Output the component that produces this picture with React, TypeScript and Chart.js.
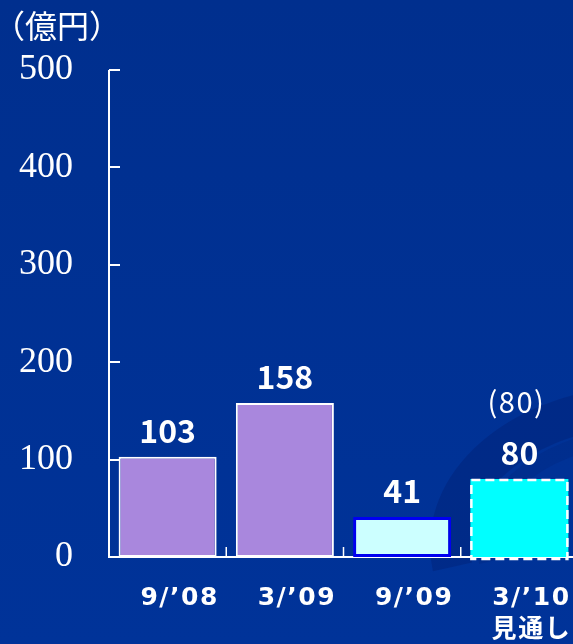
import React, { useEffect, useRef } from "react";
import { Chart, registerables } from "chart.js";

Chart.register(...registerables);

// ---- data ----
const categories = [["9/’08"], ["3/’09"], ["9/’09"], ["3/’10", "見通し"]];
const values = [103, 158, 41, 80];
const previousForecast: (number | null)[] = [null, null, null, 80];
const unitLabel = "（億円）";
const yMin = 0;
const yMax = 500;
const yStep = 100;

// ---- styles ----
const barFill = ["#A987DD", "#A987DD", "#CCFFFF", "#00FFFF"];
const barBorder = ["#FFFFFF", "#FFFFFF", "#0000F0", "rgba(0,0,0,0)"];
const barBorderWidth = [2, 2, 3, 0];
const dashedBars = [false, false, false, true];

const CJK = "'Noto Sans CJK JP', 'Noto Sans', sans-serif";
const XFONT = "'DejaVu Sans', 'Noto Sans CJK JP', sans-serif";

const backgroundPlugin = {
  id: "bg",
  beforeDraw(chart: any) {
    const { ctx, width, height } = chart;
    ctx.save();
    const g = ctx.createLinearGradient(0, 0, 0, height);
    g.addColorStop(0, "#002F8E");
    g.addColorStop(1, "#003399");
    ctx.fillStyle = g;
    ctx.fillRect(0, 0, width, height);
    // decorative swoosh
    ctx.strokeStyle = "rgba(0,28,110,0.35)";
    ctx.lineWidth = 40;
    ctx.beginPath();
    ctx.ellipse(650, 545, 200, 140, 0, Math.PI * 0.95, Math.PI * 1.5);
    ctx.stroke();
    ctx.strokeStyle = "rgba(0,28,110,0.2)";
    ctx.lineWidth = 16;
    ctx.beginPath();
    ctx.ellipse(650, 545, 165, 110, 0, Math.PI * 0.95, Math.PI * 1.5);
    ctx.stroke();
    ctx.restore();
  },
};

const spacedLabelsPlugin = {
  id: "spacedLabels",
  afterLayout(chart: any) {
    const xs = chart.scales.x;
    if (xs.__wrapped) return;
    const orig = xs.drawLabels.bind(xs);
    xs.drawLabels = (ca: any) => {
      const ctx = chart.ctx;
      ctx.save();
      (ctx as any).letterSpacing = "1.5px";
      orig(ca);
      ctx.restore();
    };
    xs.__wrapped = true;
  },
};

const axesPlugin = {
  id: "axesDecor",
  beforeDatasetsDraw(chart: any) {
    const { ctx, chartArea, scales } = chart;
    const x = scales.x;
    const y = scales.y;
    ctx.save();
    ctx.strokeStyle = "#FFFFFF";
    ctx.lineWidth = 2;
    ctx.beginPath();
    ctx.moveTo(chartArea.left, chartArea.top);
    ctx.lineTo(chartArea.left, chartArea.bottom);
    ctx.lineTo(chartArea.right, chartArea.bottom);
    ctx.stroke();
    // y ticks pointing inward
    y.ticks.forEach((t: any) => {
      const py = Math.round(y.getPixelForValue(t.value));
      ctx.beginPath();
      ctx.moveTo(chartArea.left, py);
      ctx.lineTo(chartArea.left + 11, py);
      ctx.stroke();
    });
    // x ticks at category boundaries, pointing up
    ctx.lineWidth = 1.5;
    for (let i = 0; i < categories.length - 1; i++) {
      const bx = (x.getPixelForTick(i) + x.getPixelForTick(i + 1)) / 2;
      ctx.beginPath();
      ctx.moveTo(bx, chartArea.bottom);
      ctx.lineTo(bx, chartArea.bottom - 10);
      ctx.stroke();
    }
    ctx.restore();
  },
  afterDatasetsDraw(chart: any) {
    const { ctx } = chart;
    const meta = chart.getDatasetMeta(0);
    ctx.save();
    meta.data.forEach((bar: any, i: number) => {
      const half = bar.width / 2;
      if (dashedBars[i]) {
        ctx.strokeStyle = "#FFFFFF";
        ctx.lineWidth = 2.5;
        ctx.setLineDash([9, 5]);
        ctx.strokeRect(bar.x - half + 1, bar.y + 1, bar.width - 2, bar.base - bar.y + 1);
        ctx.setLineDash([]);
      }
      ctx.fillStyle = "#FFFFFF";
      ctx.textAlign = "center";
      ctx.textBaseline = "alphabetic";
      ctx.font = `bold 32px ${CJK}`;
      ctx.fillText(String(values[i]), bar.x, bar.y - 14);
      const pf = previousForecast[i];
      if (pf !== null) {
        ctx.font = `29px ${CJK}`;
        (ctx as any).letterSpacing = "1.5px";
        ctx.fillText(`(${pf})`, bar.x - 3, bar.y - 66);
        (ctx as any).letterSpacing = "0px";
      }
    });
    // unit label
    ctx.font = `32px ${CJK}`;
    ctx.textAlign = "left";
    ctx.textBaseline = "middle";
    ctx.fillText(unitLabel, -7, 26);
    ctx.restore();
  },
};

export default function App() {
  const ref = useRef<HTMLCanvasElement | null>(null);
  useEffect(() => {
    if (!ref.current) return;
    const chart = new Chart(ref.current, {
      type: "bar",
      data: {
        labels: categories as any,
        datasets: [
          {
            data: values,
            backgroundColor: barFill,
            borderColor: barBorder,
            borderWidth: barBorderWidth,
            borderSkipped: false,
            barPercentage: 0.836,
            categoryPercentage: 1,
          },
        ],
      },
      options: {
        responsive: false,
        animation: false,
        devicePixelRatio: 1,
        layout: { padding: { top: 70, left: 0, right: 0, bottom: 0 } },
        plugins: { legend: { display: false }, tooltip: { enabled: false }, title: { display: false } },
        scales: {
          x: {
            grid: { display: false, drawTicks: false },
            border: { display: false },
            ticks: {
              color: "#FFFFFF",
              font: { family: XFONT, size: 25, weight: "bold", lineHeight: 1.3 },
              padding: 25,
              labelOffset: 12,
              maxRotation: 0,
              autoSkip: false,
            },
            afterFit(scale: any) {
              scale.height = 87;
              scale.paddingLeft = 0;
              scale.paddingRight = 0;
            },
          },
          y: {
            min: yMin,
            max: yMax,
            grid: { display: false, drawTicks: false },
            border: { display: false },
            ticks: {
              stepSize: yStep,
              color: "#FFFFFF",
              font: { family: "'Liberation Serif', 'Times New Roman', serif", size: 36 },
              padding: 36,
            },
            afterFit(scale: any) {
              scale.width = 109;
            },
          },
        },
      },
      plugins: [backgroundPlugin, spacedLabelsPlugin, axesPlugin],
    });
    return () => chart.destroy();
  }, []);
  return (
    <div style={{ position: "fixed", left: 0, top: 0, width: 573, height: 644, overflow: "hidden" }}>
      <canvas ref={ref} width={578} height={644} style={{ display: "block" }} />
    </div>
  );
}
